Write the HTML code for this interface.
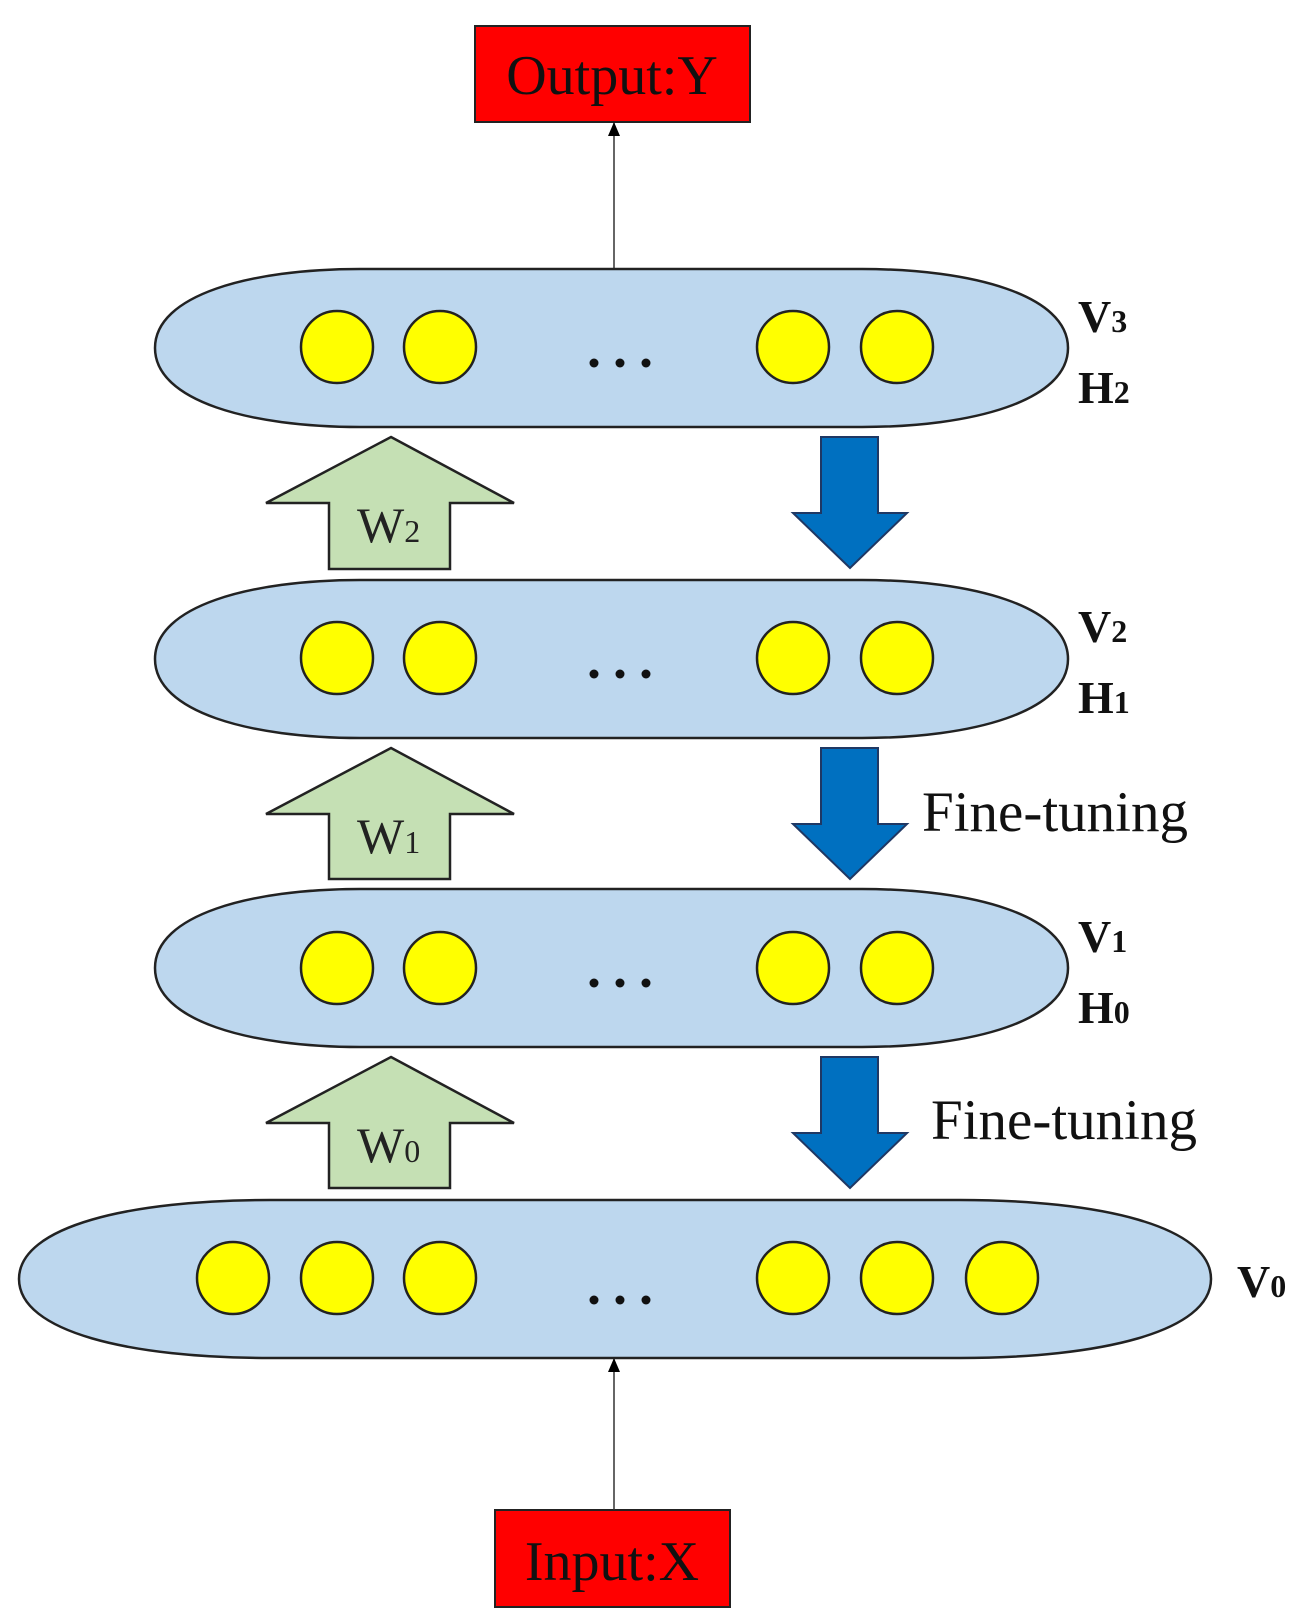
<!DOCTYPE html>
<html><head><meta charset="utf-8"><style>
html,body{margin:0;padding:0;background:#fff;}
svg{display:block;}
</style></head><body>
<svg width="1306" height="1624" viewBox="0 0 1306 1624" xmlns="http://www.w3.org/2000/svg" font-family="Liberation Serif, serif">
<defs>
<marker id="ah" markerWidth="14" markerHeight="12" refX="13" refY="6" orient="auto" markerUnits="userSpaceOnUse">
<path d="M0,0 L14,6 L0,12 Z" fill="#000"/>
</marker>
</defs>
<!-- Output box -->
<rect x="475" y="26" width="275" height="96" fill="#ff0000" stroke="#222" stroke-width="2"/>
<text x="612" y="94" font-size="56" text-anchor="middle" fill="#111">Output:Y</text>
<line x1="614" y1="269" x2="614" y2="123" stroke="#333" stroke-width="1.5" marker-end="url(#ah)"/>
<!-- Input box -->
<rect x="495" y="1510" width="235" height="97" fill="#ff0000" stroke="#222" stroke-width="2"/>
<text x="612" y="1580" font-size="56" text-anchor="middle" fill="#111">Input:X</text>
<line x1="614" y1="1510" x2="614" y2="1359" stroke="#333" stroke-width="1.5" marker-end="url(#ah)"/>

<!-- Ellipses (flattened) -->
<g fill="#bdd7ee" stroke="#222" stroke-width="2.5">
<path d="M155,348 C155,295 250,269 360,269 L862,269 C972,269 1068,295 1068,348 C1068,401 972,427 862,427 L360,427 C250,427 155,401 155,348 Z"/>
<path d="M155,659 C155,606 250,580 360,580 L862,580 C972,580 1068,606 1068,659 C1068,712 972,738 862,738 L360,738 C250,738 155,712 155,659 Z"/>
<path d="M155,968 C155,915 250,889 360,889 L862,889 C972,889 1068,915 1068,968 C1068,1021 972,1047 862,1047 L360,1047 C250,1047 155,1021 155,968 Z"/>
<path d="M19,1279 C19,1226 130,1200 270,1200 L960,1200 C1100,1200 1211,1226 1211,1279 C1211,1332 1100,1358 960,1358 L270,1358 C130,1358 19,1332 19,1279 Z"/>
</g>
<g fill="#ffff00" stroke="#222" stroke-width="2.5">
<ellipse cx="337" cy="347" rx="36" ry="36"/><ellipse cx="440" cy="347" rx="36" ry="36"/><ellipse cx="793" cy="347" rx="36" ry="36"/><ellipse cx="897" cy="347" rx="36" ry="36"/>
<ellipse cx="337" cy="658" rx="36" ry="36"/><ellipse cx="440" cy="658" rx="36" ry="36"/><ellipse cx="793" cy="658" rx="36" ry="36"/><ellipse cx="897" cy="658" rx="36" ry="36"/>
<ellipse cx="337" cy="968" rx="36" ry="36"/><ellipse cx="440" cy="968" rx="36" ry="36"/><ellipse cx="793" cy="968" rx="36" ry="36"/><ellipse cx="897" cy="968" rx="36" ry="36"/>
<ellipse cx="233" cy="1278" rx="36" ry="36"/><ellipse cx="337" cy="1278" rx="36" ry="36"/><ellipse cx="440" cy="1278" rx="36" ry="36"/><ellipse cx="793" cy="1278" rx="36" ry="36"/><ellipse cx="897" cy="1278" rx="36" ry="36"/><ellipse cx="1002" cy="1278" rx="36" ry="36"/>
</g>
<g fill="#111">
<circle cx="594" cy="363" r="4.5"/><circle cx="620" cy="363" r="4.5"/><circle cx="646" cy="363" r="4.5"/>
<circle cx="594" cy="674" r="4.5"/><circle cx="620" cy="674" r="4.5"/><circle cx="646" cy="674" r="4.5"/>
<circle cx="594" cy="983" r="4.5"/><circle cx="620" cy="983" r="4.5"/><circle cx="646" cy="983" r="4.5"/>
<circle cx="594" cy="1300" r="4.5"/><circle cx="620" cy="1300" r="4.5"/><circle cx="646" cy="1300" r="4.5"/>
</g>

<!-- Layer labels -->
<g font-size="46" font-weight="bold" fill="#111">
<text x="1078" y="332">V<tspan font-size="32">3</tspan></text>
<text x="1078" y="403">H<tspan font-size="32">2</tspan></text>
<text x="1078" y="642">V<tspan font-size="32">2</tspan></text>
<text x="1078" y="713">H<tspan font-size="32">1</tspan></text>
<text x="1078" y="952">V<tspan font-size="32">1</tspan></text>
<text x="1078" y="1023">H<tspan font-size="32">0</tspan></text>
<text x="1237" y="1297">V<tspan font-size="32">0</tspan></text>
</g>

<!-- Green arrows -->
<g fill="#c5e0b4" stroke="#222" stroke-width="2.5">
<path d="M391,437 L514,503 L450,503 L450,569 L329,569 L329,503 L266,503 Z"/>
<path d="M391,748 L514,814 L450,814 L450,879 L329,879 L329,814 L266,814 Z"/>
<path d="M391,1057 L514,1123 L450,1123 L450,1188 L329,1188 L329,1123 L266,1123 Z"/>
</g>
<g font-size="50" fill="#222">
<text x="357" y="542">W<tspan font-size="32">2</tspan></text>
<text x="357" y="853">W<tspan font-size="32">1</tspan></text>
<text x="357" y="1162">W<tspan font-size="32">0</tspan></text>
</g>

<!-- Blue arrows -->
<g fill="#0070c0" stroke="#1f3864" stroke-width="2">
<path d="M821,437 L878,437 L878,513 L907,513 L850,568 L793,513 L821,513 Z"/>
<path d="M821,748 L878,748 L878,824 L907,824 L850,879 L793,824 L821,824 Z"/>
<path d="M821,1057 L878,1057 L878,1133 L907,1133 L850,1188 L793,1133 L821,1133 Z"/>
</g>
<g font-size="57" fill="#111">
<text x="922" y="831">Fine-tuning</text>
<text x="931" y="1139">Fine-tuning</text>
</g>
</svg>
</body></html>
